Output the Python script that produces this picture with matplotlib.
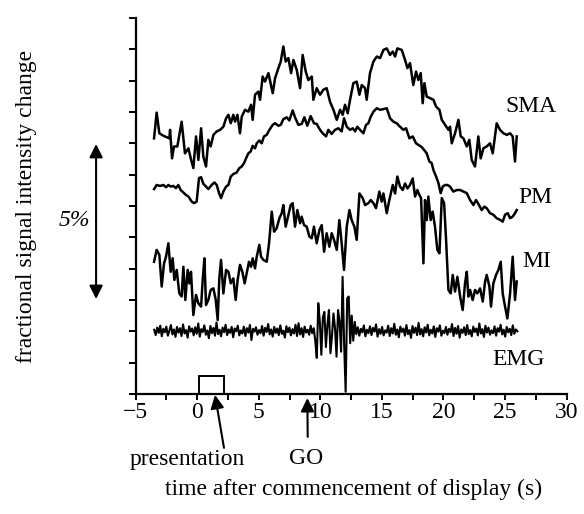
import numpy as np
import matplotlib
matplotlib.use("Agg")
from matplotlib import pyplot as plt
from matplotlib.patches import Rectangle

plt.rcParams['font.family'] = ['Liberation Serif', 'DejaVu Serif']
FS = 17

# SMA trace (time s, signal %)
sma_t = [-3.51, -3.30, -3.08, -2.75, -2.27, -2.21, -2.05, -1.89, -1.62, -1.27, -1.00, -0.72, -0.53, -0.32,
         -0.10, 0.09, 0.31, 0.49, 0.71, 0.90, 1.09, 1.31, 1.58, 1.85, 2.12, 2.34, 2.53, 2.72, 2.93, 3.07,
         3.26, 3.47, 3.61, 3.88, 4.15, 4.37, 4.50, 4.69, 4.96, 5.10, 5.31, 5.50, 5.78, 6.13, 6.32, 6.59,
         6.78, 6.99, 7.18, 7.40, 7.62, 7.81, 8.08, 8.35, 8.56, 8.81, 9.02, 9.30, 9.43, 9.70, 9.97, 10.24,
         10.51, 10.78, 11.06, 11.33, 11.60, 11.81, 12.00, 12.22, 12.41, 12.68, 12.95, 13.17, 13.36, 13.63,
         13.76, 14.03, 14.31, 14.58, 14.85, 15.12, 15.39, 15.66, 15.88, 16.07, 16.25, 16.61, 16.88, 17.07,
         17.28, 17.55, 17.77, 17.96, 18.15, 18.31, 18.45, 18.64, 18.91, 19.18, 19.40, 19.67, 19.86, 20.13,
         20.40, 20.53, 20.67, 20.94, 21.21, 21.40, 21.62, 21.89, 22.10, 22.29, 22.56, 22.83, 23.02, 23.24,
         23.51, 23.78, 24.00, 24.32, 24.59, 24.87, 25.14, 25.41, 25.62, 25.81, 25.95]
sma_v = [8.16, 8.98, 8.32, 8.24, 8.16, 8.43, 7.52, 7.90, 7.90, 8.69, 7.68, 7.84, 7.52, 7.21,
         8.22, 7.47, 8.48, 7.58, 7.26, 8.11, 7.90, 8.27, 8.38, 8.43, 8.53, 8.80, 8.91, 8.64, 8.91, 8.69,
         8.91, 8.32, 8.85, 9.07, 9.01, 9.23, 8.75, 9.55, 9.65, 9.39, 10.13, 9.97, 10.24, 9.60, 10.08, 10.40,
         10.61, 11.09, 10.61, 10.72, 10.24, 10.66, 10.34, 9.76, 10.82, 10.29, 10.02, 10.13, 9.39, 9.76, 9.55, 9.71,
         9.76, 9.33, 9.07, 8.75, 9.07, 8.91, 9.23, 8.96, 9.39, 9.92, 9.97, 9.55, 9.86, 9.76,
         9.39, 10.24, 10.61, 10.77, 10.72, 10.98, 11.03, 10.82, 10.93, 10.77, 11.03, 10.98, 10.66, 10.40,
         10.56, 9.86, 10.29, 10.02, 10.24, 9.28, 9.92, 9.49, 9.44, 9.39, 9.17, 9.07, 8.75, 8.59,
         8.43, 8.53, 8.00, 8.32, 8.75, 8.22, 8.16, 7.90, 8.11, 7.47, 7.26, 8.22, 7.52, 7.84,
         7.90, 8.00, 7.68, 8.64, 8.43, 8.32, 8.27, 8.32, 8.22, 7.42, 8.22]

# PM trace
pm_t = [-3.51, -3.30, -3.02, -2.75, -2.54, -2.35, -2.16, -1.94, -1.73, -1.54, -1.35, -1.13, -0.91, -0.72,
        -0.45, -0.26, -0.05, 0.14, 0.31, 0.49, 0.71, 0.90, 1.17, 1.39, 1.58, 1.77, 1.93, 2.12, 2.34, 2.53,
        2.72, 2.93, 3.20, 3.42, 3.61, 3.80, 3.96, 4.15, 4.34, 4.50, 4.69, 4.83, 5.04, 5.23, 5.42, 5.64,
        5.86, 6.13, 6.32, 6.59, 6.78, 6.99, 7.26, 7.48, 7.75, 7.94, 8.21, 8.48, 8.70, 8.94, 9.21, 9.48,
        9.70, 9.97, 10.19, 10.46, 10.65, 10.92, 11.19, 11.46, 11.73, 11.92, 12.14, 12.41, 12.63, 12.82,
        13.00, 13.22, 13.49, 13.71, 13.90, 14.09, 14.31, 14.58, 14.85, 15.12, 15.39, 15.66, 15.93, 16.20,
        16.47, 16.74, 16.96, 17.23, 17.50, 17.77, 17.96, 18.23, 18.42, 18.64, 18.85, 19.04, 19.18, 19.40,
        19.59, 19.77, 19.94, 20.13, 20.32, 20.53, 20.80, 21.08, 21.35, 21.62, 21.89, 22.16, 22.43, 22.64,
        22.83, 23.10, 23.32, 23.51, 23.78, 24.05, 24.32, 24.59, 24.81, 25.00, 25.22, 25.41, 25.62, 25.81, 25.95]
pm_v = [6.54, 6.67, 6.64, 6.67, 6.60, 6.67, 6.62, 6.64, 6.57, 6.67, 6.51, 6.43, 6.35, 6.30,
        6.14, 6.09, 6.14, 6.89, 6.92, 6.71, 6.62, 6.54, 6.67, 6.75, 6.67, 6.41, 6.25, 6.46, 6.62, 6.67,
        6.94, 7.02, 7.07, 7.21, 7.26, 7.37, 7.52, 7.68, 7.74, 7.92, 7.84, 8.00, 8.09, 8.00, 8.22, 8.27,
        8.43, 8.59, 8.64, 8.56, 8.59, 8.77, 8.83, 8.73, 9.05, 8.83, 8.59, 8.62, 8.83, 8.56, 8.87, 8.64,
        8.62, 8.43, 8.32, 8.22, 8.43, 8.30, 8.43, 8.48, 8.38, 8.80, 8.53, 8.43, 8.48, 8.38,
        8.53, 8.43, 8.32, 8.59, 8.64, 8.85, 9.01, 9.12, 9.07, 9.09, 9.12, 8.80, 8.69, 8.64,
        8.53, 8.43, 8.48, 8.16, 8.22, 8.00, 7.95, 7.88, 7.79, 7.68, 7.42, 7.37, 7.15, 6.94,
        6.73, 6.41, 6.62, 6.67, 6.67, 6.62, 6.46, 6.51, 6.51, 6.46, 6.41, 6.19, 6.03, 6.19,
        6.07, 5.87, 5.98, 5.93, 5.77, 5.72, 5.61, 5.56, 5.50, 5.72, 5.77, 5.61, 5.66, 5.77, 5.87]

# MI trace
mi_t = [-3.51, -3.30, -3.08, -2.89, -2.70, -2.54, -2.35, -2.16, -2.00, -1.86, -1.67, -1.46, -1.27, -1.13,
        -0.97, -0.78, -0.64, -0.51, -0.32, -0.10, 0.09, 0.31, 0.44, 0.58, 0.71, 0.90, 1.09, 1.31, 1.50,
        1.66, 1.79, 1.93, 2.12, 2.34, 2.53, 2.72, 2.93, 3.12, 3.28, 3.47, 3.66, 3.85, 4.01, 4.20, 4.37,
        4.50, 4.69, 4.83, 5.04, 5.18, 5.37, 5.64, 5.83, 6.05, 6.24, 6.45, 6.67, 6.86, 6.99, 7.18, 7.40,
        7.59, 7.75, 7.94, 8.13, 8.35, 8.48, 8.67, 8.89, 9.11, 9.30, 9.48, 9.70, 9.92, 10.11, 10.30, 10.51,
        10.73, 10.92, 11.11, 11.33, 11.54, 11.73, 11.92, 12.14, 12.36, 12.54, 12.76, 12.95, 13.17, 13.44,
        13.63, 13.90, 14.09, 14.31, 14.52, 14.79, 14.98, 15.12, 15.39, 15.60, 15.88, 16.07, 16.25, 16.47,
        16.69, 16.88, 17.07, 17.28, 17.50, 17.69, 17.88, 18.04, 18.18, 18.37, 18.50, 18.64, 18.77, 18.96,
        19.12, 19.31, 19.50, 19.67, 19.86, 20.05, 20.21, 20.40, 20.59, 20.75, 20.94, 21.13, 21.35, 21.56,
        21.75, 21.89, 22.02, 22.16, 22.37, 22.56, 22.75, 22.97, 23.19, 23.38, 23.51, 23.73, 23.86, 24.05,
        24.27, 24.46, 24.65, 24.81, 25.00, 25.19, 25.41, 25.62, 25.81, 25.95]
mi_v = [4.22, 4.60, 4.44, 3.43, 4.17, 4.38, 4.81, 3.90, 4.33, 3.64, 3.96, 3.21, 3.11, 4.06,
        3.00, 3.96, 3.53, 3.90, 2.52, 3.16, 2.89, 2.79, 3.64, 4.33, 2.84, 3.00, 3.32, 3.37, 3.00,
        2.36, 3.69, 4.28, 3.21, 3.96, 3.90, 3.53, 3.69, 3.00, 3.64, 4.12, 3.90, 3.53, 3.85, 4.22, 4.06,
        4.33, 4.01, 4.38, 4.76, 4.38, 4.28, 4.22, 4.81, 5.82, 5.18, 5.29, 5.61, 5.77, 6.03, 5.34, 5.71,
        6.03, 6.09, 5.34, 5.87, 5.45, 5.66, 5.39, 5.34, 5.02, 4.97, 5.34, 4.81, 5.23, 5.39, 4.54, 5.13,
        4.70, 5.13, 4.92, 4.60, 5.55, 4.81, 3.96, 5.34, 5.87, 5.55, 5.34, 4.92, 6.40, 6.25,
        6.03, 6.09, 6.19, 6.09, 5.93, 6.46, 6.14, 6.40, 5.77, 6.19, 6.67, 6.40, 6.94, 6.62,
        6.51, 6.72, 6.56, 6.67, 6.88, 6.30, 6.51, 6.35, 6.25, 4.17, 6.19, 5.55, 6.30, 5.55,
        5.82, 5.34, 4.60, 4.49, 6.25, 6.09, 4.92, 3.32, 3.21, 3.80, 3.27, 3.74, 3.11, 2.68,
        3.53, 3.90, 3.11, 3.32, 3.00, 3.32, 3.21, 3.37, 2.95, 3.59, 3.80, 3.43, 2.79, 3.53,
        3.80, 3.96, 4.22, 3.21, 2.79, 2.41, 3.21, 4.38, 3.00, 3.59]

# EMG trace, evenly sampled between emg_start and emg_end
emg_start, emg_end = -3.5, 26.0
emg_v = [2.05, 1.88, 2.12, 1.95, 2.18, 1.84, 2.08, 1.97, 2.15, 1.86, 2.02, 2.20, 1.90, 2.06, 1.82,
         2.14, 1.96, 2.10, 1.85, 2.22, 1.93, 2.04, 1.80, 2.16, 1.99, 2.09, 1.87, 2.13, 1.92, 2.25,
         1.83, 2.07, 1.98, 2.19, 1.89, 2.03, 1.78, 2.17, 1.94, 2.11, 1.86, 2.28, 1.91, 2.05, 1.84,
         2.12, 1.97, 2.21, 1.88, 2.06, 1.95, 2.14, 1.81, 2.09, 2.00, 2.18, 1.87, 2.03, 1.93, 2.15,
         1.85, 2.10, 1.96, 2.20, 1.72, 2.08, 1.99, 2.13, 1.89, 2.04, 1.94, 2.17, 1.86, 2.11, 1.98,
         2.23, 1.90, 2.06, 1.83, 2.14, 1.95, 2.09, 1.88, 2.19, 1.92, 2.02, 1.80, 2.16, 1.97, 2.12,
         1.87, 2.07, 1.93, 2.21, 1.85, 2.26, 1.90, 2.10, 1.82, 2.15, 1.96, 2.05, 1.89, 2.18, 1.94,
         2.10, 1.70, 1.15, 2.90, 2.30, 1.25, 2.45, 2.62, 1.50, 2.20, 2.68, 1.30, 1.85, 2.57,
         2.10, 1.19, 2.68, 2.30, 1.35, 3.74, 1.60, 0.07, 3.05, 3.11, 1.62, 2.50, 1.70, 2.30,
         1.91, 2.13, 1.86, 2.08, 1.97, 2.19, 1.84, 2.05, 1.94, 2.16, 1.88, 2.11, 1.99, 2.22, 1.83,
         2.07, 1.92, 2.14, 1.87, 2.03, 1.96, 2.18, 1.85, 2.10, 1.93, 2.24, 1.89, 2.06, 1.81, 2.15,
         1.98, 2.09, 1.86, 2.20, 1.91, 2.04, 1.79, 2.17, 1.95, 2.12, 1.88, 2.27, 1.90, 2.07, 1.84,
         2.13, 1.96, 2.21, 1.87, 2.05, 1.93, 2.16, 1.82, 2.10, 1.99, 2.19, 1.86, 2.02, 1.94, 2.14,
         1.89, 2.08, 1.97, 2.23, 1.85, 2.11, 1.92, 2.17, 1.80, 2.06, 1.95, 2.13, 1.88, 2.20, 1.91,
         2.04, 1.84, 2.15, 1.98, 2.09, 1.87, 2.25, 1.93, 2.07, 1.82, 2.18, 1.96, 2.12, 1.89, 2.03,
         1.94, 2.16, 1.86, 2.10, 1.99, 2.21, 1.90, 2.05, 1.83, 2.14, 1.97, 2.08, 1.88, 2.19, 1.92,
         2.06, 2.00]
emg_t = np.linspace(emg_start, emg_end, len(emg_v))

labels = ['SMA', 'PM', 'MI', 'EMG']
label_pos = [(25.0, 9.0), (26.1, 6.1), (26.4, 4.05), (23.95, 0.93)]

fig = plt.figure(figsize=(5.84, 5.14), dpi=100)
ax = fig.add_axes([0.2324, 0.2335, 0.7378, 0.7315])

ax.plot(sma_t, sma_v, color='k', lw=1.8)
ax.plot(pm_t, pm_v, color='k', lw=1.8)
ax.plot(mi_t, mi_v, color='k', lw=1.8)
ax.plot(emg_t, emg_v, color='k', lw=1.5)

for lab, (x, y) in zip(labels, label_pos):
    ax.text(x, y, lab, fontsize=FS, ha='left', va='baseline')

# stimulus box
ax.add_patch(Rectangle((0.1, 0), 2.1, 0.58, fill=False, ec='k', lw=1.4, clip_on=False))

ax.set_xlim(-5, 30)
ax.set_ylim(0, 12)
ax.set_xticks(np.arange(-5, 31, 5))
ax.set_xticks(np.arange(-2.5, 30, 5), minor=True)
ax.set_yticks(np.arange(0, 13, 1))
ax.set_yticklabels([])
for s in ['top', 'right']:
    ax.spines[s].set_visible(False)
for s in ['left', 'bottom']:
    ax.spines[s].set_linewidth(1.6)
ax.tick_params(axis='x', which='both', direction='out', length=4.5, width=1.4, labelsize=FS, pad=1.5)
ax.tick_params(axis='y', direction='out', length=5, width=1.4)

arr = dict(arrowstyle='-|>', color='k', lw=1.5, mutation_scale=20, shrinkA=0, shrinkB=0)
ax.annotate('', xy=(1.44, -0.03), xytext=(2.17, -1.72), arrowprops=arr, annotation_clip=False)
ax.annotate('', xy=(8.94, -0.13), xytext=(8.97, -1.37), arrowprops=arr, annotation_clip=False)
ax.text(-0.79, -2.26, 'presentation', fontsize=FS, ha='center', va='baseline')
ax.text(8.83, -2.22, 'GO', fontsize=FS, ha='center', va='baseline')
ax.text(12.7, -3.22, 'time after commencement of display (s)', fontsize=FS, ha='center', va='baseline')

# 5% scale bar
ax.annotate('', xy=(-8.22, 7.98), xytext=(-8.22, 3.03),
            arrowprops=dict(arrowstyle='<|-|>', color='k', lw=1.5, mutation_scale=20,
                            shrinkA=0, shrinkB=0), annotation_clip=False)
ax.text(-11.23, 5.36, '5%', fontsize=FS, ha='left', va='baseline', style='italic')

fig.text(27 / 584, 0.599, 'fractional signal intensity change', fontsize=FS,
         rotation=90, ha='center', va='center')

fig.savefig('out.png', dpi=100)
